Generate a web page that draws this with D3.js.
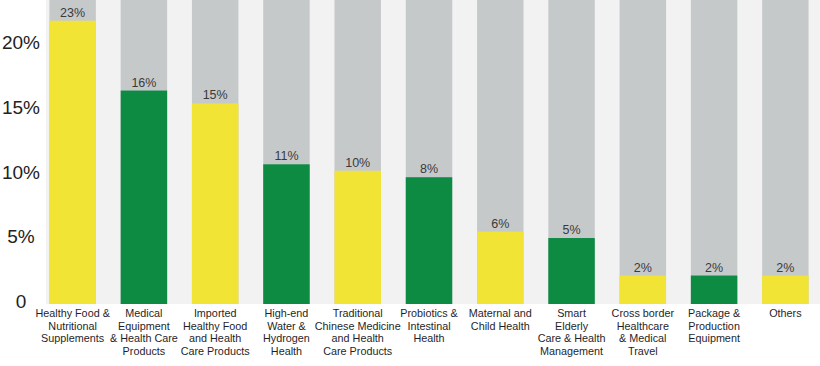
<!DOCTYPE html>
<html><head><meta charset="utf-8">
<script src="https://cdn.jsdelivr.net/npm/d3@7/dist/d3.min.js"></script>
<style>
html,body{margin:0;padding:0;background:#fff;}
svg{display:block;font-family:"Liberation Sans",Arial,Helvetica,sans-serif;}
</style></head>
<body><svg id="chart" width="820" height="366"></svg>
<script>
const categories = [
  "Healthy Food &\nNutritional\nSupplements",
  "Medical\nEquipment\n& Health Care\nProducts",
  "Imported\nHealthy Food\nand Health\nCare Products",
  "High-end\nWater &\nHydrogen\nHealth",
  "Traditional\nChinese Medicine\nand Health\nCare Products",
  "Probiotics &\nIntestinal\nHealth",
  "Maternal and\nChild Health",
  "Smart\nElderly\nCare & Health\nManagement",
  "Cross border\nHealthcare\n& Medical\nTravel",
  "Package &\nProduction\nEquipment",
  "Others"
];
const values = [21.9, 16.5, 15.5, 10.8, 10.3, 9.8, 5.6, 5.1, 2.2, 2.2, 2.2];
const valueLabels = ["23%", "16%", "15%", "11%", "10%", "8%", "6%", "5%", "2%", "2%", "2%"];
const colorGroup = ["y", "g", "y", "g", "y", "g", "y", "g", "y", "g", "y"];
const yTicks = [0, 5, 10, 15, 20];
const yTickLabels = ["0", "5%", "10%", "15%", "20%"];
const yMax = 23.5;

const W = 820, H = 366;
const base = 304;
const svg = d3.select("#chart");
const colors = {y: "#f2e435", g: "#0d8b43"};

const x = d3.scaleBand().domain(d3.range(categories.length))
  .range([37, 821]).paddingInner(0.348).paddingOuter(0.174);
const y = d3.scaleLinear().domain([0, yMax]).range([base, 0]);

// plot background
svg.append("rect").attr("x", 46).attr("y", 0).attr("width", W - 46).attr("height", base).attr("fill", "#f2f2f2");

// full-height grey bars
svg.append("g").selectAll("rect").data(values).join("rect")
  .attr("x", (d, i) => x(i)).attr("width", x.bandwidth())
  .attr("y", y(yMax)).attr("height", y(0) - y(yMax))
  .attr("fill", "#c6c9ca");

// value bars
svg.append("g").selectAll("rect").data(values).join("rect")
  .attr("x", (d, i) => x(i)).attr("width", x.bandwidth())
  .attr("y", d => y(d)).attr("height", d => y(0) - y(d))
  .attr("fill", (d, i) => colors[colorGroup[i]]);

// value labels
svg.append("g").selectAll("text").data(values).join("text")
  .attr("x", (d, i) => x(i) + x.bandwidth() / 2)
  .attr("y", d => y(d) - 4)
  .attr("text-anchor", "middle")
  .attr("font-size", 12.5)
  .attr("fill", "#3a3a3a")
  .text((d, i) => valueLabels[i]);

// y axis labels
const yAxis = d3.axisLeft(y).tickValues(yTicks).tickFormat((d, i) => yTickLabels[i]).tickSize(0);
const ya = svg.append("g").attr("transform", "translate(21,0)").call(yAxis);
ya.select(".domain").remove();
ya.selectAll("text").attr("text-anchor", "middle").attr("x", 0).attr("dy", "0.32em")
  .attr("transform", "translate(0,-2.5)")
  .attr("font-size", 19).attr("fill", "#222").attr("font-family", "'Liberation Sans',Arial,sans-serif");

// category labels
const cat = svg.append("g").selectAll("text").data(categories).join("text")
  .attr("text-anchor", "middle")
  .attr("font-size", 10.8)
  .attr("fill", "#1f1f2a");
cat.each(function(d, i) {
  const t = d3.select(this);
  d.split("\n").forEach((line, j) => {
    t.append("tspan").attr("x", x(i) + x.bandwidth() / 2).attr("y", 317 + j * 12.7).text(line);
  });
});
</script></body></html>
